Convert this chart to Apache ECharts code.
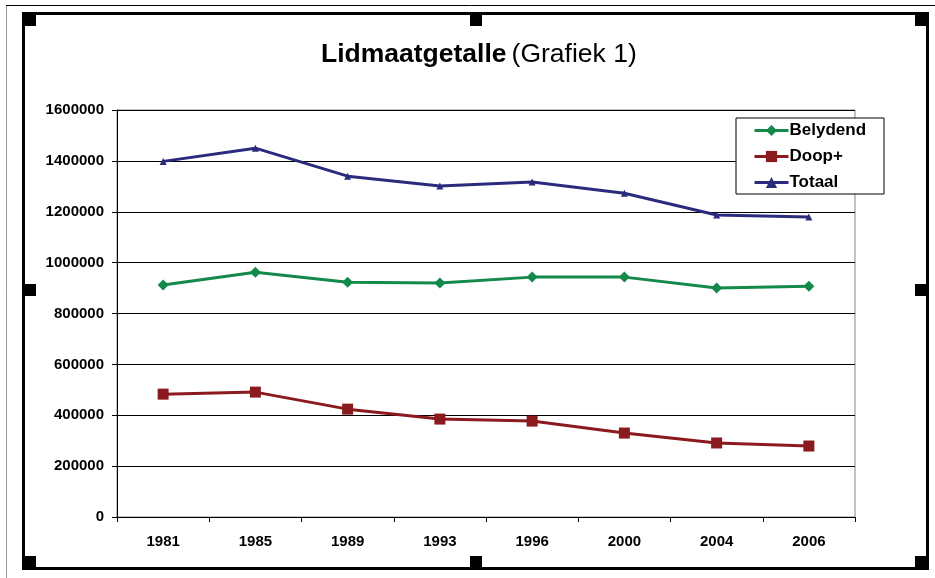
<!DOCTYPE html>
<html><head><meta charset="utf-8">
<script src="https://cdn.jsdelivr.net/npm/echarts@6/dist/echarts.min.js"></script>
<style>html,body{margin:0;padding:0;background:#fff}#c{width:935px;height:578px}</style>
</head><body><div id="c"></div>
<script>
var years = ['1981','1985','1989','1993','1996','2000','2004','2006'];
var belydend = [912000, 962000, 923000, 920000, 943000, 943000, 900000, 907000];
var doop = [483000, 491000, 424000, 385000, 377000, 330000, 291000, 279000];
var totaal = [1398000, 1450000, 1340000, 1301000, 1317000, 1273000, 1187000, 1179000];
var yTicks = {min: 0, max: 1600000, interval: 200000};

var chart = echarts.init(document.getElementById('c'));
var F = 'Liberation Sans, Arial, sans-serif';
function rect(x, y, w, h, fill) {
  return {type: 'rect', shape: {x: x, y: y, width: w, height: h}, style: {fill: fill}, silent: true, z: 100};
}
chart.setOption({
  animation: false,
  backgroundColor: '#fff',
  title: {
    text: '{b|Lidmaatgetalle} {n|(Grafiek 1)}',
    left: 316, top: 36,
    textStyle: {fontWeight: 'normal', rich: {
      b: {fontFamily: F, fontSize: 26.5, fontWeight: 'bold', color: '#000'},
      n: {fontFamily: F, fontSize: 26.5, fontWeight: 'normal', color: '#000'}
    }}
  },
  legend: {
    orient: 'vertical',
    left: 736, top: 118,
    itemWidth: 34, itemHeight: 14, itemGap: 9,
    padding: [4, 18, 3, 17],
    borderColor: '#000', borderWidth: 1, backgroundColor: '#fff',
    lineStyle: {width: 3},
    textStyle: {fontFamily: F, fontSize: 17, fontWeight: 'bold', color: '#000', padding: [0, 0, 0, -4]},
    data: ['Belydend', 'Doop+', 'Totaal']
  },
  grid: {left: 117, right: 80, top: 110, bottom: 61, show: true, borderColor: '#888', borderWidth: 1},
  xAxis: {
    type: 'category', data: years, boundaryGap: true,
    axisLine: {lineStyle: {color: '#000', width: 1}},
    axisTick: {show: true, length: 5, alignWithLabel: false, lineStyle: {color: '#000'}},
    axisLabel: {fontFamily: F, fontSize: 15, fontWeight: 'bold', color: '#000', margin: 17},
    splitLine: {show: false}
  },
  yAxis: {
    type: 'value', min: yTicks.min, max: yTicks.max, interval: yTicks.interval,
    axisLine: {show: true, lineStyle: {color: '#000', width: 1}},
    axisTick: {show: true, length: 5, lineStyle: {color: '#000'}},
    axisLabel: {fontFamily: F, fontSize: 15, fontWeight: 'bold', color: '#000', margin: 13,
      formatter: function (v) { return String(v); }},
    splitLine: {show: true, lineStyle: {color: '#000', width: 1}}
  },
  series: [
    {name: 'Belydend', type: 'line', data: belydend, symbol: 'diamond', symbolSize: 11,
      lineStyle: {color: '#138a4a', width: 3}, itemStyle: {color: '#138a4a'}},
    {name: 'Doop+', type: 'line', data: doop, symbol: 'rect', symbolSize: 11,
      lineStyle: {color: '#8b1a1e', width: 3}, itemStyle: {color: '#8b1a1e'}},
    {name: 'Totaal', type: 'line', data: totaal, symbol: 'triangle', symbolSize: 7,
      lineStyle: {color: '#2b2b7e', width: 3}, itemStyle: {color: '#2b2b7e'}}
  ],
  graphic: [
    {type: 'line', shape: {x1: 6.5, y1: 5, x2: 6.5, y2: 578}, style: {stroke: '#999', lineWidth: 1}, silent: true, z: 100},
    {type: 'line', shape: {x1: 6, y1: 5.5, x2: 935, y2: 5.5}, style: {stroke: '#000', lineWidth: 1}, silent: true, z: 100},
    rect(22, 12, 907, 3, '#000'),
    rect(22, 567, 907, 3, '#000'),
    rect(22, 12, 3, 558, '#000'),
    rect(926, 12, 3, 558, '#000'),
    rect(22, 12, 14, 14, '#000'),
    rect(470, 12, 12, 14, '#000'),
    rect(915, 12, 14, 14, '#000'),
    rect(22, 284, 14, 12, '#000'),
    rect(915, 284, 14, 12, '#000'),
    rect(22, 556, 14, 14, '#000'),
    rect(470, 556, 12, 14, '#000'),
    rect(915, 556, 14, 14, '#000')
  ]
});
</script></body></html>
